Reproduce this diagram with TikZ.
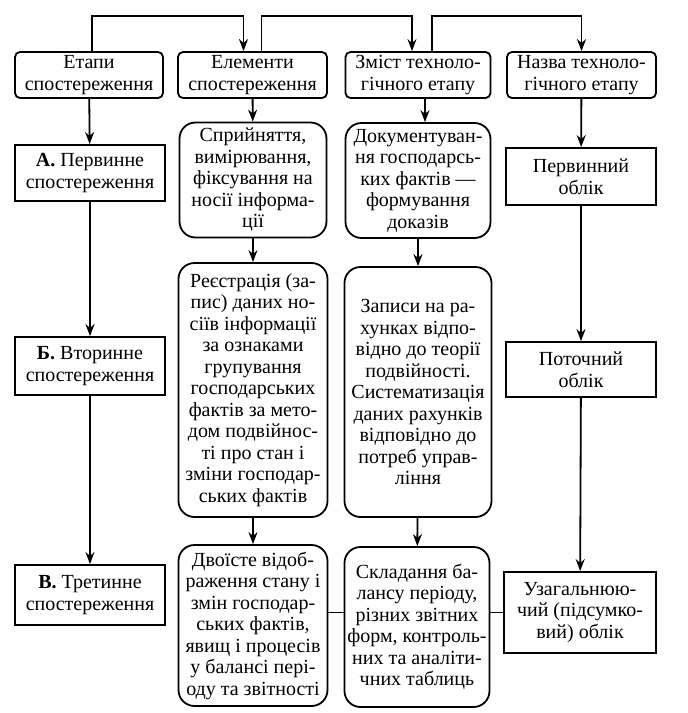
\documentclass[tikz,border=0pt]{standalone}
\usepackage{fontspec}
\setmainfont{Liberation Serif}
\usetikzlibrary{petri,positioning,arrows.meta}

\begin{document}
\begin{tikzpicture}[x=1pt,y=-1pt,
    >={Stealth[length=12pt,width=9pt]},
    every node/.style={font=\fontsize{20}{21.5}\selectfont, align=center, inner sep=1pt},
    head/.style={draw, line width=1.8pt, rounded corners=5pt, minimum height=46pt},
    stage/.style={draw, line width=1.8pt, minimum width=150pt},
    elem/.style={draw, line width=1.8pt, rounded corners=16pt},
    wire/.style={line width=1.8pt}]
    \useasboundingbox (0,0) rectangle (688,713);
    % header row
    \node[head, minimum width=148pt] (etapy) at (89,75) {Етапи\\спостереження};
    \node[head, minimum width=149pt] (elementy) at (252.5,75) {Елементи\\спостереження};
    \node[head, minimum width=145pt] (zmist) at (418,75) {Зміст техноло-\\гічного етапу};
    \node[head, minimum width=149pt] (nazva) at (581.5,75) {Назва техноло-\\гічного етапу};
    % stages of observation
    \node[stage, minimum height=56pt] (stageA) at (90,173) {\textbf{А.} Первинне\\спостереження};
    \node[stage, minimum height=58pt] (stageB) at (90,366) {\textbf{Б.} Вторинне\\спостереження};
    \node[stage, minimum height=60pt] (stageV) at (90,595) {\textbf{В.} Третинне\\спостереження};
    % elements
    \node[elem, minimum width=147pt, minimum height=115pt] (elem1) at (253,180) {Сприйняття,\\вимірювання,\\фіксування на\\носії інформа-\\ції};
    \node[elem, minimum width=149pt, minimum height=254pt] (elem2) at (253,390) {Реєстрація (за-\\пис) даних но-\\сіїв інформації\\за ознаками\\групування\\господарських\\фактів за мето-\\дом подвійнос-\\ті про стан і\\зміни господар-\\ських фактів};
    \node[elem, minimum width=149pt, minimum height=161pt] (elem3) at (253,625.5) {Двоїсте відоб-\\раження стану і\\змін господар-\\ських фактів,\\явищ і процесів\\у балансі пері-\\оду та звітності};
    % content
    \node[elem, minimum width=145pt, minimum height=115pt] (zmist1) at (418,180.5) {Документуван-\\ня господарсь-\\ких фактів —\\формування\\доказів};
    \node[elem, minimum width=147pt, minimum height=250pt] (zmist2) at (418,392) {Записи на ра-\\хунках відпо-\\відно до теорії\\подвійності.\\Систематизація\\даних рахунків\\відповідно до\\потреб управ-\\ління};
    \node[elem, minimum width=145pt, minimum height=160pt] (zmist3) at (417,627) {Складання ба-\\лансу періоду,\\різних звітних\\форм, контроль-\\них та аналіти-\\чних таблиць};
    % accounting
    \node[stage, minimum height=57pt] (oblik1) at (581,176.5) {Первинний\\облік};
    \node[stage, minimum height=55pt] (oblik2) at (581,369.5) {Поточний\\облік};
    \node[stage, minimum width=152pt, minimum height=81pt] (oblik3) at (580,612.5) {Узагальнюю-\\чий (підсумко-\\вий) облік};
    % top links
    \draw[wire,->] ([xshift=3pt]etapy.north) -- ++(0,-35) -| ([xshift=-9pt]elementy.north);
    \draw[wire,->] ([xshift=9pt]elementy.north) -- ++(0,-35) -| ([xshift=-6pt]zmist.north);
    \draw[wire,->] ([xshift=14pt]zmist.north) -- ++(0,-35) -| (nazva.north);
    % columns
    \draw[wire] (etapy) edge[->] (stageA);
    \draw[wire] (stageA) edge[->] (stageB);
    \draw[wire] (stageB) edge[->] (stageV);
    \draw[wire] (elementy) edge[->] (elem1);
    \draw[wire] (elem1) edge[->] (elem2);
    \draw[wire] (elem2) edge[->] (elem3);
    \draw[wire,->] ([xshift=7pt]zmist.south) -- ([xshift=7pt]zmist1.north);
    \draw[wire] (zmist1) edge[->] (zmist2);
    \draw[wire] (zmist2) edge[->] (zmist3);
    \draw[wire] (nazva) edge[->] (oblik1);
    \draw[wire] (oblik1) edge[->] (oblik2);
    \draw[wire] (oblik2) edge[->] (oblik3);
    % bottom links
    \draw[wire] (elem3.east |- oblik3.west) -- (zmist3.west |- oblik3.west);
    \draw[wire] (zmist3.east |- oblik3.west) -- (oblik3.west);
\end{tikzpicture}
\end{document}
